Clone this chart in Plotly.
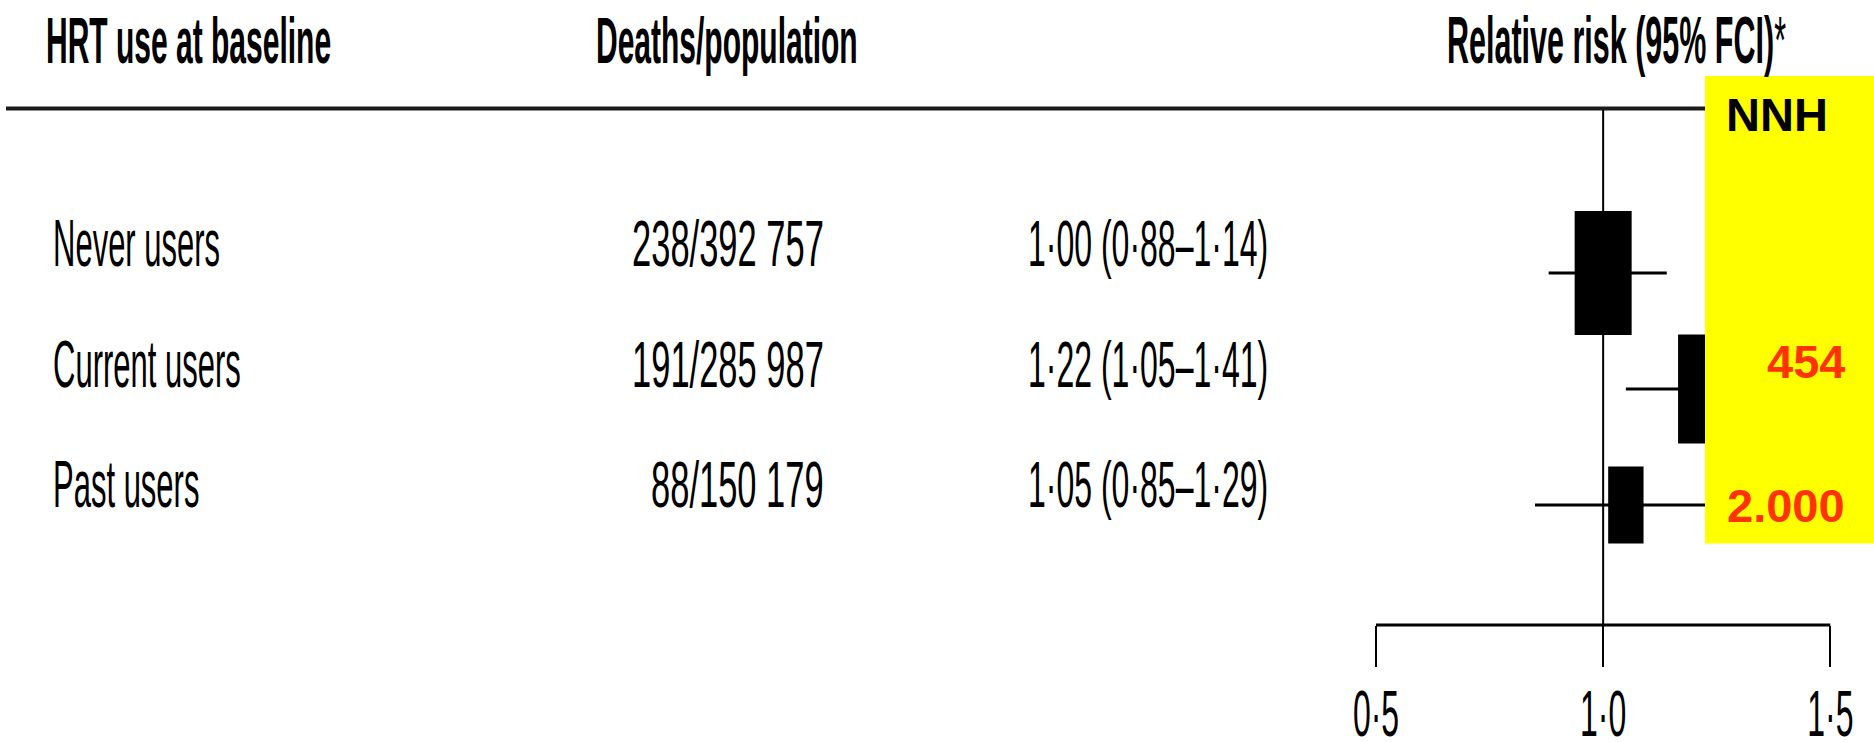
import math
import plotly.graph_objects as go

# ---- data -------------------------------------------------------------
groups = ["Never users", "Current users", "Past users"]
deaths = [238, 191, 88]
population = [392757, 285987, 150179]
rr = [1.00, 1.22, 1.05]
ci_low = [0.88, 1.05, 0.85]
ci_high = [1.14, 1.41, 1.29]
nnh = [None, 454, 2000]
axis_ticks = [0.5, 1.0, 1.5]
axis_ticktext = ["0·5", "1·0", "1·5"]
headers = ["HRT use at baseline", "Deaths/population", "Relative risk (95% FCI)"]

# ---- layout constants (pixels) -----------------------------------------
W, H = 1874, 742
PLOT_BOTTOM = 625
X_PX_LO, X_PX_HI = 1376.0, 1830.3       # pixel of first / last tick
ROW1_PX, ROW3_PX = 273.0, 505.0           # pixel of first / last row centre
FONT = "Liberation Sans, Arial, sans-serif"

px_per_x = (X_PX_HI - X_PX_LO) / (axis_ticks[-1] - axis_ticks[0])
x_range = [axis_ticks[0] - X_PX_LO / px_per_x,
           axis_ticks[-1] + (W - X_PX_HI) / px_per_x]
px_per_y = (ROW3_PX - ROW1_PX) / 2.0
y_range = [3 + (PLOT_BOTTOM - ROW3_PX) / px_per_y, 1 - ROW1_PX / px_per_y]


def pxx(px):
    return px / W


def pxy(py):
    return 1 - py / PLOT_BOTTOM


def fmt_dec(v):
    return f"{v:.2f}".replace(".", "·")


rows = [1, 2, 3]

# box size proportional to inverse standard error of the log relative risk
inv_se = [2 * 1.96 / (math.log(h) - math.log(l)) for l, h in zip(ci_low, ci_high)]
BOX_HALF_W = 57 / 2 / px_per_x
BOX_HALF_H = 124 / 2 / px_per_y

fig = go.Figure()

# confidence-interval whiskers
cx, cy = [], []
for r, lo, hi in zip(rows, ci_low, ci_high):
    cx += [lo, hi, None]
    cy += [r, r, None]
fig.add_trace(go.Scatter(x=cx, y=cy, mode="lines",
                         line=dict(color="black", width=3),
                         hoverinfo="skip", showlegend=False))

shapes = []
# null line at relative risk 1
shapes.append(dict(type="line", xref="x", yref="paper", x0=1.0, x1=1.0,
                   y0=pxy(108), y1=0, line=dict(color="black", width=2),
                   layer="above"))
# point-estimate boxes
for r, est, w in zip(rows, rr, inv_se):
    k = w / max(inv_se)
    shapes.append(dict(type="rect", xref="x", yref="y",
                       x0=est - BOX_HALF_W * k, x1=est + BOX_HALF_W * k,
                       y0=r - BOX_HALF_H * k, y1=r + BOX_HALF_H * k,
                       fillcolor="black", line=dict(width=0), layer="above"))
# horizontal rule under the column headers
shapes.append(dict(type="line", xref="paper", yref="paper", x0=pxx(6), x1=1,
                   y0=pxy(108.5), y1=pxy(108.5),
                   line=dict(color="#1a1a1a", width=4), layer="above"))
# scale bar between the outer ticks
shapes.append(dict(type="line", xref="x", yref="paper",
                   x0=min(axis_ticks), x1=max(axis_ticks), y0=0, y1=0,
                   line=dict(color="black", width=3), layer="above"))
# NNH panel
shapes.append(dict(type="rect", xref="paper", yref="paper",
                   x0=pxx(1705), x1=1, y0=pxy(543.5), y1=pxy(76),
                   fillcolor="#FFFF00", line=dict(width=0), layer="above"))

ann = []
stretch = {}   # annotation index -> vertical stretch factor


def add_text(text, x, y, size, anchor, color="black", sy=None):
    if sy is not None:
        stretch[len(ann)] = sy
    ann.append(dict(text=text, xref="paper", yref="paper", x=x, y=y,
                    xanchor=anchor, yanchor="middle", showarrow=False,
                    font=dict(family=FONT, size=size, color=color)))


# column headers
HEAD_Y = pxy(40)
add_text(f"<b>{headers[0]}</b>", pxx(44), HEAD_Y, 30, "left", sy=2.19)
add_text(f"<b>{headers[1]}</b>", pxx(594), HEAD_Y, 30, "left", sy=2.19)
add_text(f"<b>{headers[2]}</b>*", pxx(1445), HEAD_Y, 30.5, "left", sy=2.16)

TEXT_ROW_PX = [243, 364, 484]
for g, ty in zip(groups, TEXT_ROW_PX):
    add_text(g, pxx(51), pxy(ty), 31, "left", sy=2.16)
for d, p, ty in zip(deaths, population, TEXT_ROW_PX):
    add_text(f"{d}/{p:,}".replace(",", " "), pxx(826), pxy(ty), 34.5, "right", sy=1.9)
for est, lo, hi, ty in zip(rr, ci_low, ci_high, TEXT_ROW_PX):
    add_text(f"{fmt_dec(est)} ({fmt_dec(lo)}–{fmt_dec(hi)})", pxx(1026), pxy(ty),
             32, "left", sy=2.05)

# NNH panel text
ann.append(dict(text="<b>NNH</b>", xref="paper", yref="paper", x=pxx(1777),
                y=pxy(114), xanchor="center", yanchor="middle", showarrow=False,
                font=dict(family=FONT, size=47, color="black")))
NNH_Y_PX = [None, 361.5, 505]
for v, ty in zip(nnh, NNH_Y_PX):
    if v is None:
        continue
    ann.append(dict(text=f"<b>{v:,}</b>".replace(",", "."), xref="paper",
                    yref="paper", x=pxx(1847), y=pxy(ty), xanchor="right",
                    yanchor="middle", showarrow=False,
                    font=dict(family=FONT, size=47, color="#FF3300")))

fig.update_layout(
    width=W, height=H,
    margin=dict(l=0, r=0, t=0, b=H - PLOT_BOTTOM, pad=0),
    paper_bgcolor="white", plot_bgcolor="white",
    showlegend=False,
    shapes=shapes, annotations=ann,
    xaxis=dict(range=x_range, showgrid=False, zeroline=False, showline=False,
               tickmode="array", tickvals=axis_ticks, ticktext=axis_ticktext,
               ticks="outside", ticklen=41, tickwidth=2, tickcolor="black",
               tickfont=dict(family=FONT, size=32, color="black"),
               ticklabelstandoff=9, fixedrange=True),
    yaxis=dict(range=y_range, visible=False, fixedrange=True),
)

# the typeface is tall and narrow: stretch text vertically about its centre
rules = []
for idx, sy in stretch.items():
    rules.append(f"g.annotation[data-index='{idx}'] text{{transform-box:fill-box;"
                 f"transform-origin:center;scale:1 {sy};}}")
rules.append(".xtick text{transform-box:fill-box;transform-origin:center;scale:1 2.05;}")
css = "".join(rules)
post = "var s=document.createElement('style');s.textContent=`" + css + "`;document.head.appendChild(s);"

fig.write_html("out.html", post_script=post, config={"displayModeBar": False})
